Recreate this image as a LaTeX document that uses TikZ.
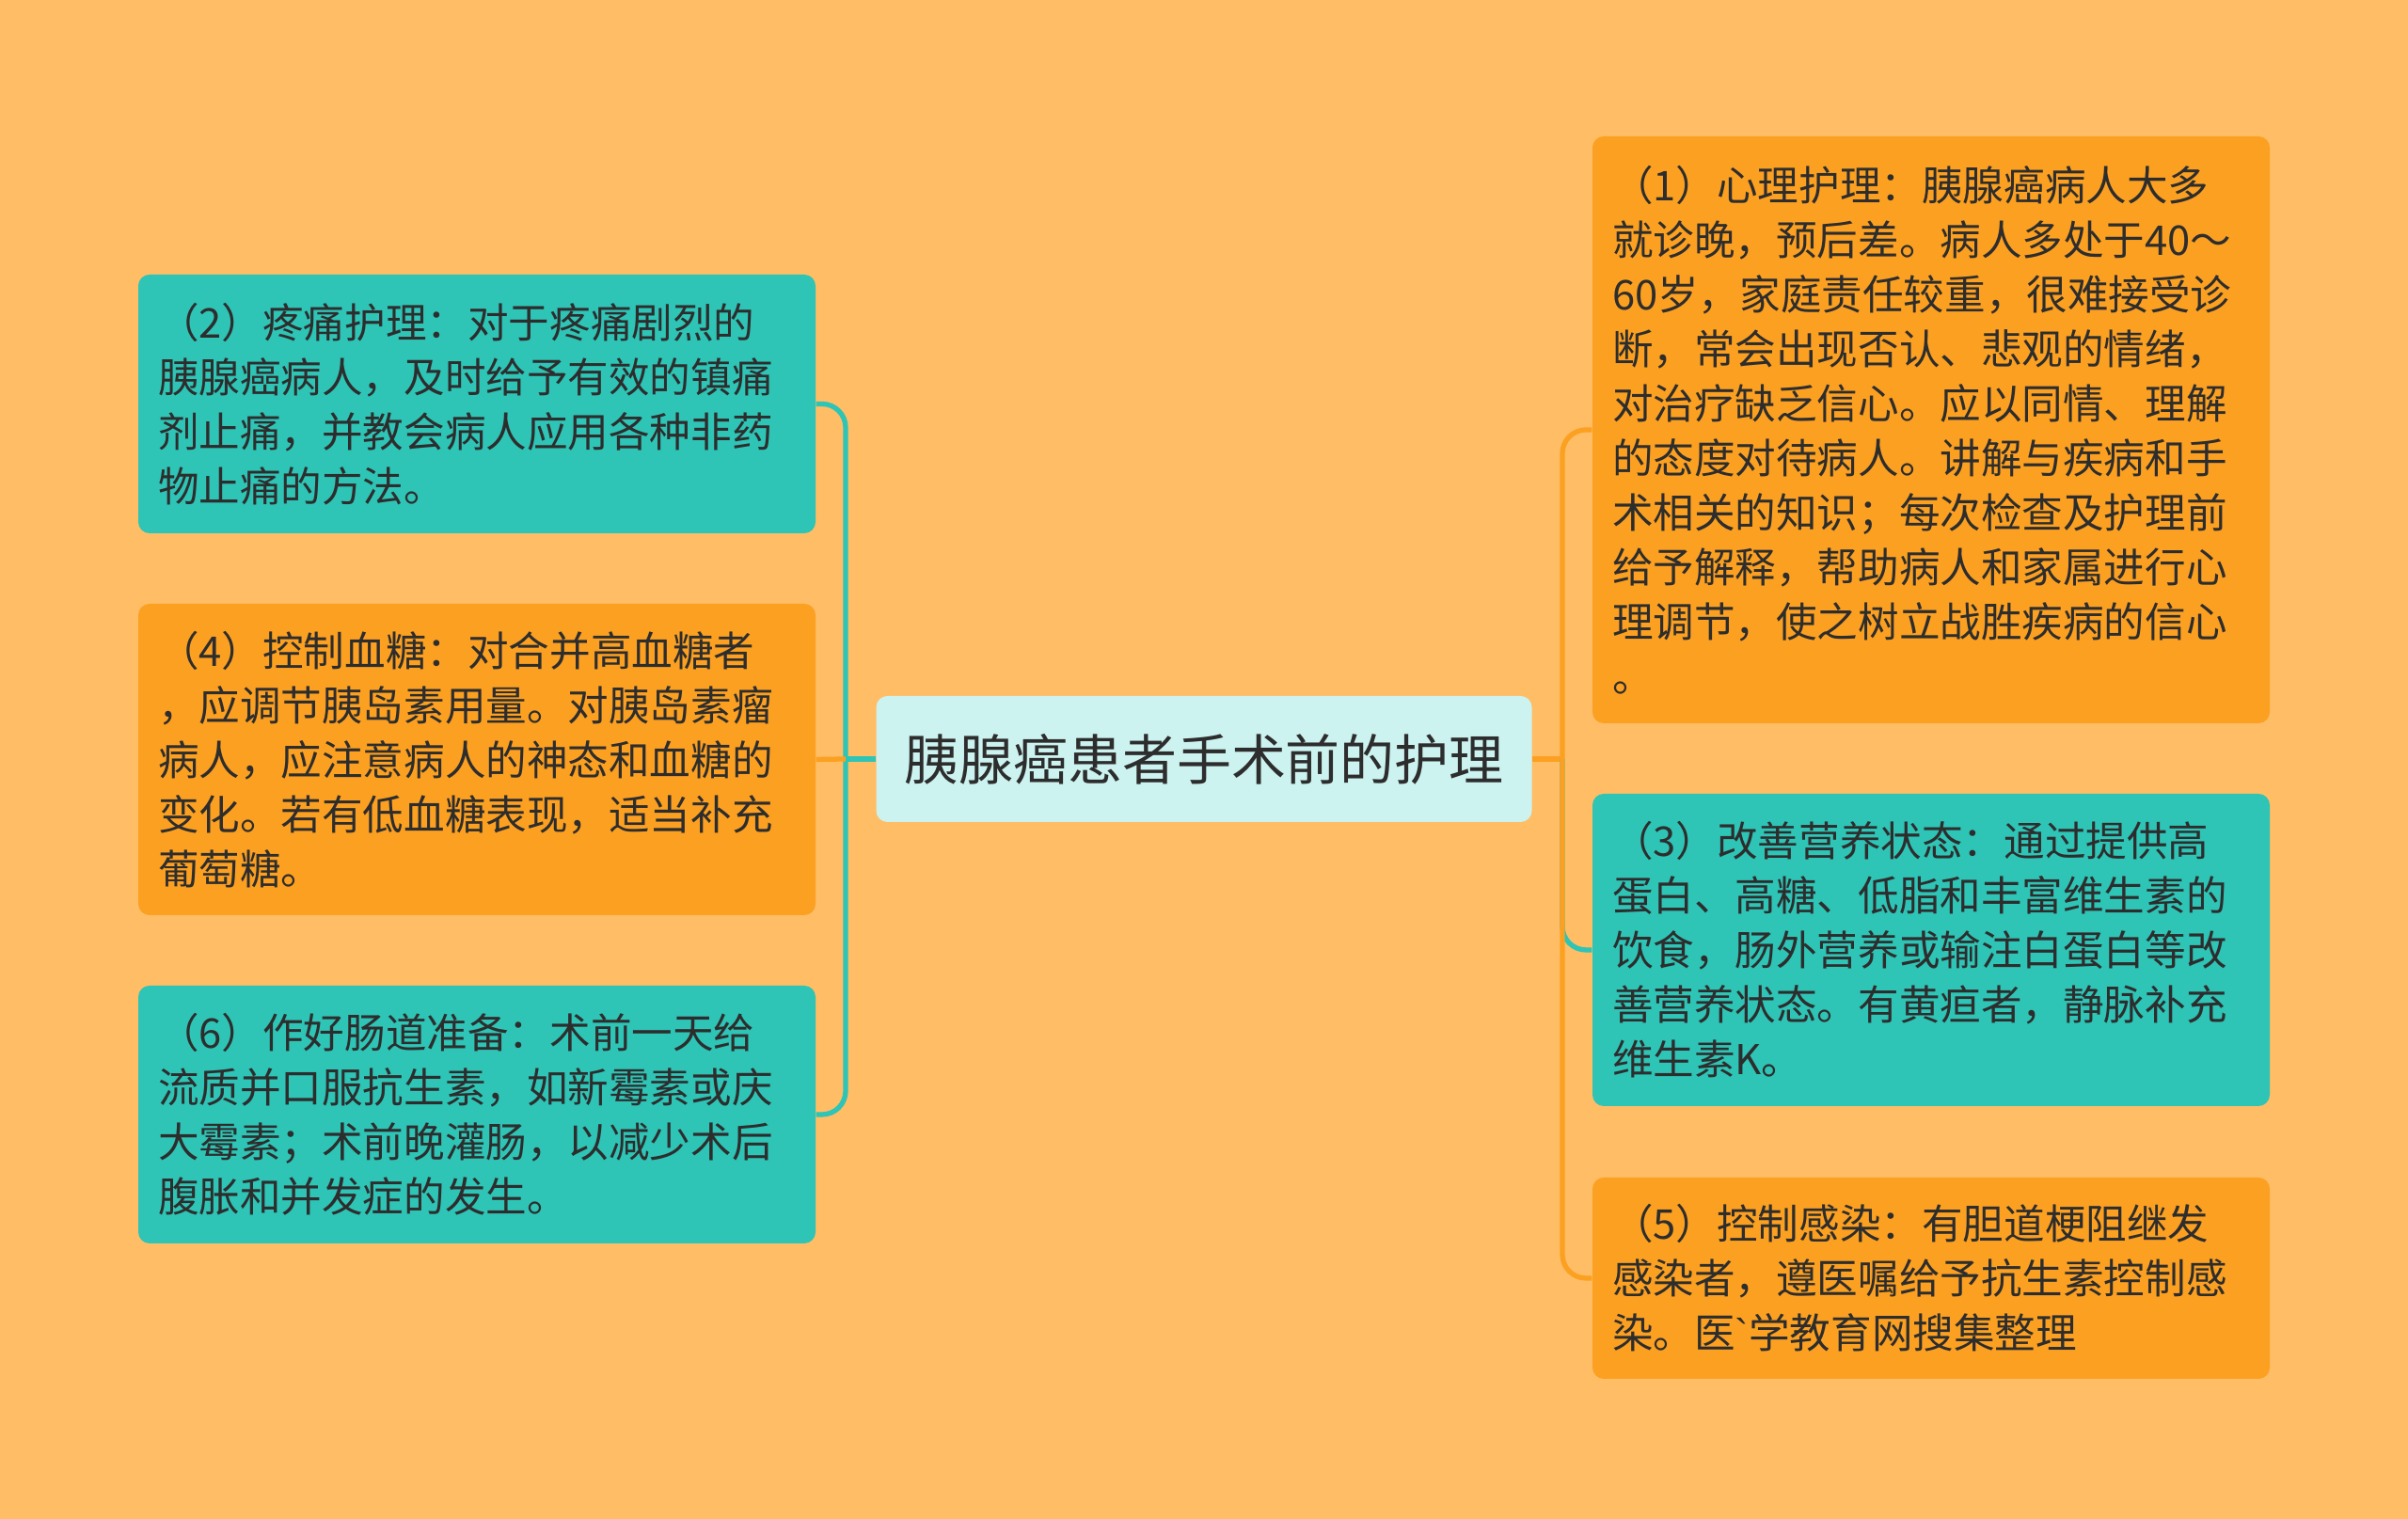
\documentclass[tikz,border=0pt]{standalone}
\usepackage{fontspec}
\setmainfont{Noto Sans CJK SC}
\newfontfamily\latinfont{Liberation Sans}
\usepackage{tikz}
\definecolor{Paper}{HTML}{FFBD66}
\definecolor{Teal}{HTML}{2EC4B6}
\definecolor{Amber}{HTML}{FCA021}
\definecolor{Mint}{HTML}{CCF3F0}
\definecolor{Ink}{HTML}{2D2D2D}
\begin{document}
\begin{tikzpicture}
	[Box/.style={rectangle, rounded corners=0.12cm, text=Ink, font=\fontsize{12.4}{16.5}\selectfont, text width=6.78cm, inner xsep=0.21cm, inner ysep=0pt, align=left},
	 Link/.style={line width=1.5pt, rounded corners=0.25cm}]
	\fill[Paper] (0,0) rectangle (25.6,16.15);
	\useasboundingbox (0,0) rectangle (25.6,16.15);
	\node[rectangle, rounded corners=0.12cm, fill=Mint, text=Ink, minimum width=6.97cm, minimum height=1.34cm, font=\fontsize{16.5}{20}\selectfont] (Root) at (12.80, 8.08) {胰腺癌患者手术前的护理};
	\coordinate (JL) at (8.99, 8.08);
	\coordinate (JR) at (16.61, 8.08);
	\node[Box, fill=Teal, minimum height=2.75cm] (LTwo) at (5.07, 11.855) {（2）疼痛护理：对于疼痛剧烈的\\胰腺癌病人，及时给予有效的镇痛\\剂止痛，并教会病人应用各种非药\\物止痛的方法。};
	\node[Box, fill=Amber, minimum height=3.31cm] (LFour) at (5.07, 8.075) {（4）控制血糖：对合并高血糖者\\，应调节胰岛素用量。对胰岛素瘤\\病人，应注意病人的神态和血糖的\\变化。若有低血糖表现，适当补充\\葡萄糖。};
	\node[Box, fill=Teal, minimum height=2.74cm] (LSix) at (5.07, 4.30) {（6）作好肠道准备：术前一天给\\流质并口服抗生素，如新霉素或庆\\大霉素；术前晚灌肠，以减少术后\\腹胀和并发症的发生。};
	\node[Box, fill=Amber, minimum height=6.24cm] (ROne) at (20.53, 11.58) {（1）心理护理：胰腺癌病人大多\\就诊晚，预后差。病人多处于40～\\60岁，家庭责任较重，很难接受诊\\断，常会出现否认、悲观的情绪，\\对治疗缺乏信心。应以同情、理解\\的态度对待病人。讲解与疾病和手\\术相关的知识；每次检查及护理前\\给予解释，帮助病人和家属进行心\\理调节，使之树立战胜疾病的信心\\。};
	\node[Box, fill=Teal, minimum height=3.32cm] (RThree) at (20.53, 6.05) {（3）改善营养状态：通过提供高\\蛋白、高糖、低脂和丰富维生素的\\饮食，肠外营养或输注白蛋白等改\\善营养状态。有黄疸者，静脉补充\\维生素K。};
	\node[Box, fill=Amber, minimum height=2.14cm] (RFive) at (20.53, 2.56) {（5）控制感染：有胆道梗阻继发\\感染者，遵医嘱给予抗生素控制感\\染。医{\latinfont\char"60}学教育网搜集整理};
	\draw[Link, draw=Teal] (Root.west) -- (JL);
	\foreach \n in {LTwo, LSix}
		\draw[Link, draw=Teal] (JL) |- (\n.east);
	\draw[Link, draw=Amber] (JL) -- (LFour.east);
	\draw[Link, draw=Amber] (Root.east) -- (JR);
	\foreach \n/\c in {RThree/Teal, ROne/Amber, RFive/Amber}
		\draw[Link, draw=\c] (JR) |- (\n.west);
\end{tikzpicture}
\end{document}
